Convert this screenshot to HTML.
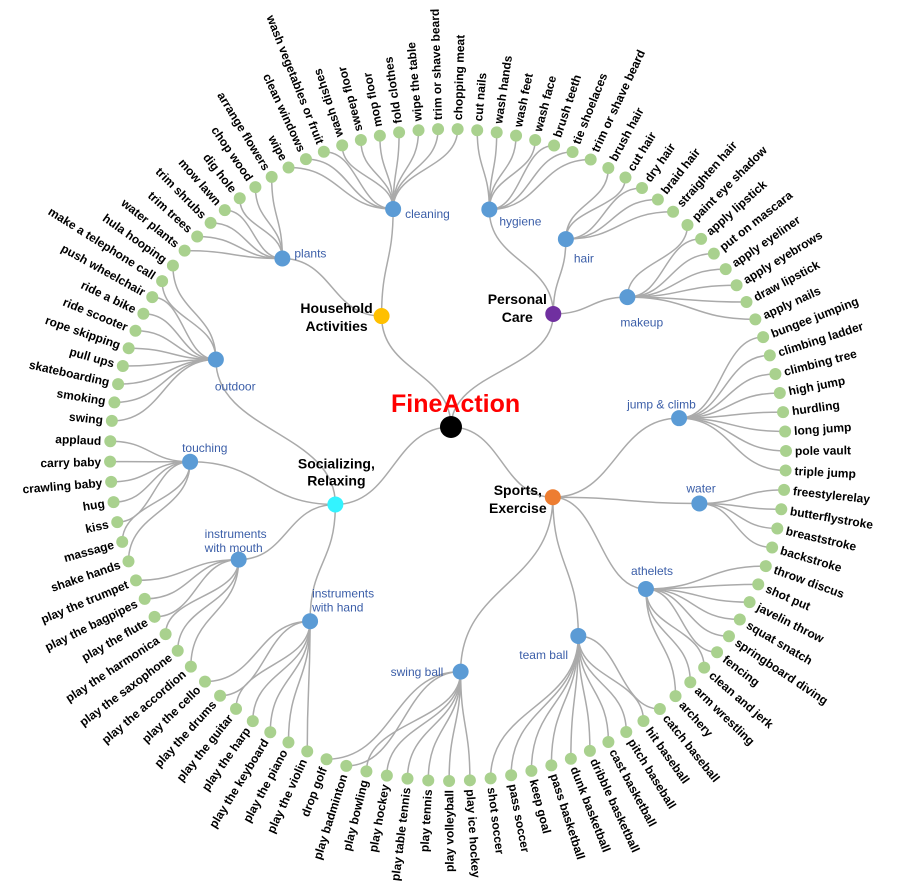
<!DOCTYPE html>
<html><head><meta charset="utf-8">
<style>
html,body{margin:0;padding:0;background:#fff;}
svg{display:block;font-family:"Liberation Sans",Arial,sans-serif;}
.leaf-label{font-size:12px;font-weight:bold;fill:#000;}
.group-label{font-size:12px;fill:#3b5ea8;}
.top-label{font-size:14px;font-weight:bold;fill:#000;}
</style></head>
<body>
<svg id="chart" width="898" height="884" viewBox="0 0 898 884">
<g id="links"></g>
<g id="nodes"></g>
<g id="labels"></g>
<text x="391" y="412" font-size="25" font-weight="bold" fill="#ff0000">FineAction</text>
</svg>
<script>
// ---- data ----
const outdoorLeaves = ["swing","smoking","skateboarding","pull ups","rope skipping","ride scooter","ride a bike","push wheelchair","make a telephone call","hula hooping"];
const plantsLeaves = ["water plants","trim trees","trim shrubs","mow lawn","dig hole","chop wood","arrange flowers"];
const cleaningLeaves = ["wipe","clean windows","wash vegetables or fruit","wash dishes","sweep floor","mop floor","fold clothes","wipe the table","trim or shave beard","chopping meat"];
const hygieneLeaves = ["cut nails","wash hands","wash feet","wash face","brush teeth","tie shoelaces","trim or shave beard"];
const hairLeaves = ["brush hair","cut hair","dry hair","braid hair","straighten hair"];
const makeupLeaves = ["paint eye shadow","apply lipstick","put on mascara","apply eyeliner","apply eyebrows","draw lipstick","apply nails"];
const jumpLeaves = ["bungee jumping","climbing ladder","climbing tree","high jump","hurdling","long jump","pole vault","triple jump"];
const waterLeaves = ["freestylerelay","butterflystroke","breaststroke","backstroke"];
const athletesLeaves = ["throw discus","shot put","javelin throw","squat snatch","springboard diving","fencing","clean and jerk","arm wrestling","archery"];
const teamLeaves = ["catch baseball","hit baseball","pitch baseball","cast basketball","dribble basketball","dunk basketball","pass basketball","keep goal","pass soccer","shot soccer"];
const swingLeaves = ["play ice hockey","play volleyball","play tennis","play table tennis","play hockey","play bowling","play badminton","drop golf"];
const handLeaves = ["play the violin","play the piano","play the keyboard","play the harp","play the guitar","play the drums","play the cello"];
const mouthLeaves = ["play the accordion","play the saxophone","play the harmonica","play the flute","play the bagpipes","play the trumpet"];
const touchingLeaves = ["shake hands","massage","kiss","hug","crawling baby","carry baby","applaud"];

const groupNames = ["outdoor","plants","cleaning","hygiene","hair","makeup","jump & climb","water","athelets","team ball","swing ball","instruments with  hand","instruments with mouth","touching"];
const groupLeaves = [outdoorLeaves,plantsLeaves,cleaningLeaves,hygieneLeaves,hairLeaves,makeupLeaves,jumpLeaves,waterLeaves,athletesLeaves,teamLeaves,swingLeaves,handLeaves,mouthLeaves,touchingLeaves];
const topNames = ["Household Activities","Personal Care","Sports, Exercise","Socializing, Relaxing"];
const topGroups = [["plants","cleaning"],["hygiene","hair","makeup"],["jump & climb","water","athelets","team ball","swing ball"],["outdoor","touching","instruments with mouth","instruments with  hand"]];
const topColors = ["#ffc000","#7030a0","#ed7d31","#33f3ff"];

// ---- layout config ----
const CX=448, CY=455, RX=338, RY=326;
const ROOT={x:451,y:427};
const groupLayout = {
 "outdoor":{r:251,da:1.6,lx:-1,ly:[27]},
 "plants":{r:257,da:1.2,lx:12,ly:[-5]},
 "cleaning":{r:252,da:0.7,lx:12,ly:[5]},
 "hygiene":{r:249,da:-5.4,lx:10,ly:[12]},
 "hair":{r:246,da:-6.4,lx:8,ly:[19]},
 "makeup":{r:239,da:-6.6,lx:-7,ly:[25]},
 "jump & climb":{r:234,da:0.2,lx:-52,ly:[-14]},
 "water":{r:256,da:-0.4,lx:-13,ly:[-15]},
 "athelets":{r:239,da:0.3,lx:-15,ly:[-18]},
 "team ball":{r:223,da:-12.7,lx:-59,ly:[19]},
 "swing ball":{r:217,da:-12,lx:-70,ly:[0]},
 "instruments with  hand":{r:216,da:4.4,lx:2,ly:[-28,-14]},
 "instruments with mouth":{r:234,da:5,lx:-34,ly:[-26,-12]},
 "touching":{r:258,da:6.8,lx:-8,ly:[-14]}
};
const topLayout = [
 {r:154,da:0.8,lx:-45,ly:[-3,15],lines:["Household","Activities"]},
 {r:176,da:7.8,lx:-36,ly:[-10,8],lines:["Personal","Care"]},
 {r:113,da:-13,lx:-35,ly:[-2,16],lines:["Sports,","Exercise"]},
 {r:123,da:-9.7,lx:1,ly:[-36,-19],lines:["Socializing,","Relaxing"]}
];

const NS="http://www.w3.org/2000/svg";
const linksG=document.getElementById('links'), nodesG=document.getElementById('nodes'), labelsG=document.getElementById('labels');
const rad=d=>d*Math.PI/180;
const total=groupLeaves.reduce((s,a)=>s+a.length,0);
function leafAngle(i){return 276 + i*360/total - 5*Math.sin(Math.PI*i/total);}
function circMean(arr){let sx=0,sy=0;arr.forEach(a=>{sx+=Math.sin(rad(a));sy+=Math.cos(rad(a));});return Math.atan2(sx,sy)*180/Math.PI;}
function ellPos(a){return {x:CX+RX*Math.sin(rad(a)), y:CY-RY*Math.cos(rad(a))};}
function circPos(a,r){return {x:CX+r*Math.sin(rad(a)), y:CY-r*Math.cos(rad(a))};}
function slug(s){return s.toLowerCase().replace(/[^a-z0-9]+/g,'-').replace(/^-|-$/g,'');}
function mk(tag,attrs,parent){const e=document.createElementNS(NS,tag);for(const k in attrs)e.setAttribute(k,attrs[k]);parent.appendChild(e);return e;}
function link(s,t,name){
 const dx=t.x-s.x, dy=t.y-s.y; let d;
 if(Math.abs(dy)>=Math.abs(dx)){const my=(s.y+t.y)/2;d=`M${s.x},${s.y}C${s.x},${my} ${t.x},${my} ${t.x},${t.y}`;}
 else{const mx=(s.x+t.x)/2;d=`M${s.x},${s.y}C${mx},${s.y} ${mx},${t.y} ${t.x},${t.y}`;}
 const p=mk('path',{d:d,fill:'none',stroke:'#aaaaaa','stroke-width':1.5},linksG);
 
 
}
function dot(p,r,fill,name){
 const c=mk('circle',{cx:p.x,cy:p.y,r:r,fill:fill},nodesG);
 
 
}

// leaves & groups
const groupInfo={};
let idx=0;
groupNames.forEach((g,gi)=>{
 const leaves=groupLeaves[gi]; const angs=[];
 leaves.forEach(l=>{angs.push({a:leafAngle(idx),name:l});idx++;});
 const mean=circMean(angs.map(o=>o.a));
 const L=groupLayout[g]; const ga=mean+L.da; const gp=circPos(ga,L.r);
 groupInfo[g]={a:ga,p:gp,leaves:angs};
});
groupNames.forEach(g=>{
 const G=groupInfo[g];
 G.leaves.forEach(o=>{
  const p=ellPos(o.a);
  link(G.p,p,'link-'+slug(g)+'-'+slug(o.name));
  dot(p,6,'#a9d18e','leaf-'+slug(o.name));
  let am=((o.a%360)+360)%360;
  const flipped = am>178 && am<340;
  const rot = flipped ? am+90 : am-90;
  const off = flipped ? -9 : 9;
  const t=mk('text',{class:'leaf-label',x:off,y:0,dy:'0.35em','text-anchor':flipped?'end':'start',transform:`translate(${p.x.toFixed(1)},${p.y.toFixed(1)}) rotate(${rot.toFixed(1)})`},labelsG);
  t.textContent=o.name;
  
  
 });
});
// top-level
topNames.forEach((n,ti)=>{
 const gs=topGroups[ti].map(g=>groupInfo[g]);
 const mean=circMean(gs.map(G=>G.a));
 const L=topLayout[ti]; const p=circPos(mean+L.da,L.r);
 link(ROOT,p,'link-root-'+slug(n));
 gs.forEach((G,k)=>link(p,G.p,'link-'+slug(n)+'-'+slug(topGroups[ti][k])));
 dot(p,8,topColors[ti],'category-node-'+slug(n));
 L.lines.forEach((ln,k)=>{
  const t=mk('text',{class:'top-label',x:p.x+L.lx,y:p.y+L.ly[k],'text-anchor':'middle'},labelsG);
  t.textContent=ln;
  
  
 });
});
groupNames.forEach(g=>{
 const G=groupInfo[g], L=groupLayout[g];
 dot(G.p,8,'#5b9bd5','group-node-'+slug(g));
 const lines = L.ly.length>1 ? [g.replace(/ with.*/,''), g.replace(/^instruments /,'')] : [g];
 lines.forEach((ln,k)=>{
  const t=mk('text',{class:'group-label',x:G.p.x+L.lx,y:G.p.y+L.ly[k],dy:'0.35em'},labelsG);
  t.textContent=ln;
  
  
 });
});
const root=mk('circle',{cx:ROOT.x,cy:ROOT.y,r:11,fill:'#000'},nodesG);


</script>
</body></html>
